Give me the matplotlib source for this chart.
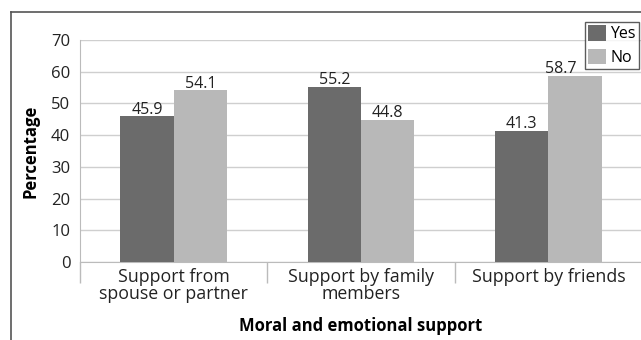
import matplotlib
matplotlib.use("Agg")
import matplotlib.pyplot as plt
import numpy as np
from matplotlib.lines import Line2D

categories = ["Support from\nspouse or partner", "Support by family\nmembers", "Support by friends"]
yes_vals = [45.9, 55.2, 41.3]
no_vals = [54.1, 44.8, 58.7]
y_ticks = [0, 10, 20, 30, 40, 50, 60, 70]

plt.rcParams["font.family"] = ["Open Sans", "DejaVu Sans"]

W, H = 641, 340
fig = plt.figure(figsize=(W / 100, H / 100), dpi=100)

# outer frame (clipped by the image on right and bottom)
fig.add_artist(Line2D([11 / W, 11 / W], [0, 1 - 12 / H], color="#555555", lw=1.2))
fig.add_artist(Line2D([11 / W, 1], [1 - 12 / H, 1 - 12 / H], color="#555555", lw=1.2))

ax = fig.add_axes([80 / W, 78 / H, 562 / W, 222 / H])
x = np.arange(len(categories))
w = 0.284
ax.bar(x - w / 2, yes_vals, w, color="#6b6b6b", label="Yes", zorder=3)
ax.bar(x + w / 2, no_vals, w, color="#b8b8b8", label="No", zorder=3)

for xi, v in zip(x - w / 2, yes_vals):
    ax.annotate(f"{v}", (xi, v), xytext=(0, -1), textcoords="offset points",
                ha="center", va="bottom", fontsize=11.5, color="#222222")
for i, (xi, v) in enumerate(zip(x + w / 2, no_vals)):
    # last label is nudged left so it stays clear of the legend
    dx = -10 if i == len(no_vals) - 1 else 0
    ax.annotate(f"{v}", (xi, v), xytext=(dx, -1), textcoords="offset points",
                ha="center", va="bottom", fontsize=11.5, color="#222222")

ax.set_xlim(-0.5, len(categories) - 0.5)
ax.set_ylim(0, 70)
ax.set_yticks(y_ticks)
ax.grid(True, axis="y", color="#cfcfcf", lw=1, zorder=0)
ax.tick_params(axis="y", length=0, pad=7, labelsize=12, labelcolor="#222222")

ax.set_xticks(np.arange(len(categories) + 1) - 0.5)
ax.set_xticklabels([])
ax.tick_params(axis="x", which="major", length=15, color="#bbbbbb", width=1)
ax.set_xticks(x, minor=True)
ax.set_xticklabels(categories, minor=True, fontsize=12.8, linespacing=0.98, color="#222222")
ax.tick_params(axis="x", which="minor", length=0, pad=4)

for s in ["top", "right"]:
    ax.spines[s].set_visible(False)
ax.spines["left"].set_color("#bbbbbb")
ax.spines["bottom"].set_color("#bbbbbb")

ax.set_ylabel("Percentage", fontsize=12, fontweight="bold", labelpad=8)
fig.text(361 / W, 1 - 326 / H, "Moral and emotional support", ha="center", va="center",
         fontsize=12, fontweight="bold")

leg = fig.legend(loc="upper left", bbox_to_anchor=(585 / W, 1 - 22 / H), fontsize=11.5,
                 frameon=True, fancybox=False, borderpad=0.2, handlelength=1.1,
                 handleheight=1.1, handletextpad=0.3, labelspacing=0.4, borderaxespad=0)
leg.get_frame().set_edgecolor("#333333")
leg.get_frame().set_linewidth(1)

fig.savefig("out.png", dpi=100)
